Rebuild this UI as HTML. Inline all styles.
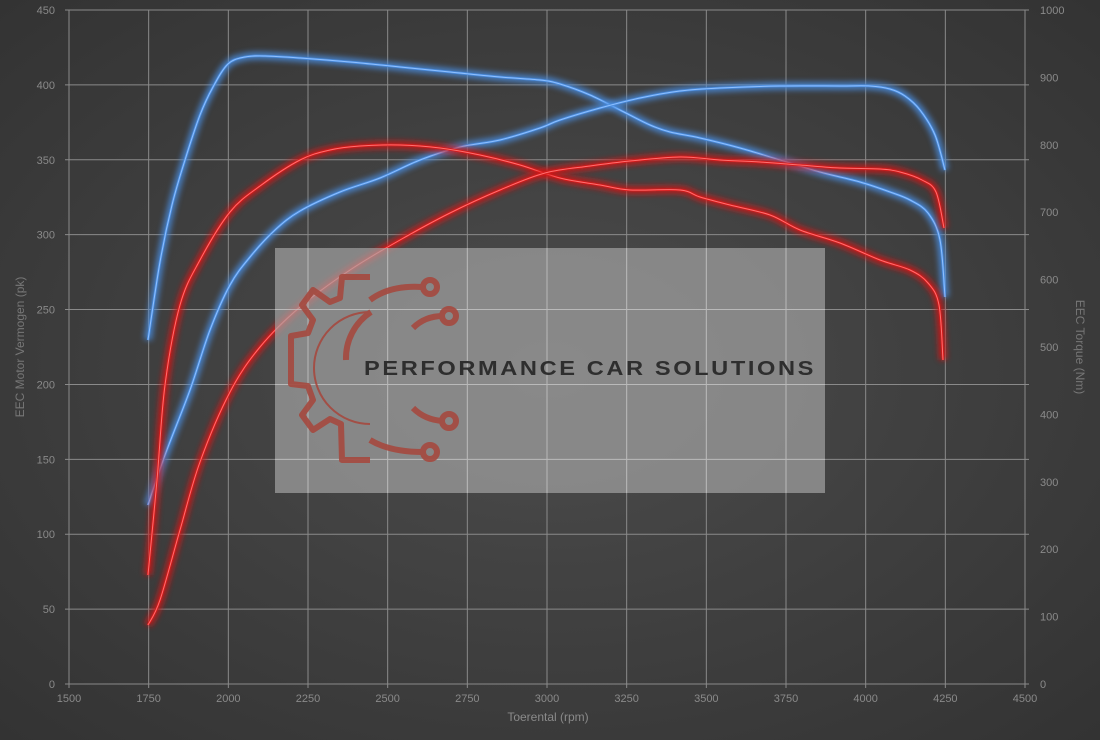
<!DOCTYPE html>
<html><head><meta charset="utf-8"><style>
html,body{margin:0;padding:0;width:1100px;height:740px;overflow:hidden;background:#3a3a3a}
svg{display:block;font-family:"Liberation Sans",sans-serif}
</style></head><body>
<svg id="s" width="1100" height="740" viewBox="0 0 1100 740">
<defs>
<radialGradient id="bg" cx="50%" cy="50%" r="70%">
<stop offset="0" stop-color="#4c4c4c"/><stop offset="1" stop-color="#333"/>
</radialGradient>
<filter id="glow" x="-10%" y="-10%" width="120%" height="120%"><feGaussianBlur stdDeviation="3"/></filter>
</defs>
<rect width="1100" height="740" fill="url(#bg)"/>
<g id="grid" stroke="#8a8a8a" stroke-width="1"></g>
<g id="labels" font-size="11" fill="#8a8a8a"></g>
<text x="548" y="721" font-size="12" fill="#8a8a8a" text-anchor="middle">Toerental (rpm)</text>
<text transform="translate(24,347) rotate(-90)" font-size="12" fill="#777" text-anchor="middle">EEC Motor Vermogen (pk)</text>
<text transform="translate(1076,347) rotate(90)" font-size="12" fill="#777" text-anchor="middle">EEC Torque (Nm)</text>
<g id="curves"></g>
<rect x="275" y="248" width="550" height="245" fill="#a6a6a6" opacity="0.68"/>
<g id="grid2" stroke="#ccc" stroke-width="1" opacity="0.6"></g>
<g fill="none" stroke="#a5493f" stroke-width="6" stroke-linejoin="round" opacity="0.9">
<path d="M346,360 A55,55 0 0 1 371,312"/>
<path d="M370,277 L342,277 L340,298 L330,302 L313,290 L302,305 L313,320 L308,333 L291,336 L291,384 L308,386 L313,400 L302,415 L313,430 L330,419 L341,424 L342,460 L370,460"/>
<path d="M370,312 A56,56 0 0 0 370,424" stroke-width="2"/>
<path d="M370,300 Q390,285 422,287"/>
<path d="M413,328 Q425,316 443,316"/>
<path d="M413,408 Q425,420 443,421"/>
<path d="M370,440 Q390,452 423,452"/>
<circle cx="430" cy="287" r="7"/><circle cx="449" cy="316" r="7"/>
<circle cx="449" cy="421" r="7"/><circle cx="430" cy="452" r="7"/>
</g>
<text x="364" y="375" font-size="20" font-weight="bold" fill="#2e2e2e" letter-spacing="2.2" textLength="452" lengthAdjust="spacingAndGlyphs">PERFORMANCE CAR SOLUTIONS</text>
</svg>
<script>
const NS="http://www.w3.org/2000/svg";
function el(p,t,a,txt){const e=document.createElementNS(NS,t);for(const k in a)e.setAttribute(k,a[k]);if(txt!=null)e.textContent=txt;p.appendChild(e);return e;}
const g=document.getElementById('grid'),L=document.getElementById('labels'),g2=document.getElementById('grid2');
const X=r=>69+(r-1500)*956/3000;
for(let i=0;i<=9;i++){const y=684-i*674/9;el(g,'line',{x1:65,x2:1029,y1:y,y2:y});el(L,'text',{x:55,y:y+4,'text-anchor':'end'},String(i*50));
 if(y>248&&y<493)el(g2,'line',{x1:275,x2:825,y1:y,y2:y});}
for(let i=0;i<=10;i++){const y=684-i*67.4;el(L,'text',{x:1040,y:y+4},String(i*100));}
for(let r=1500;r<=4500;r+=250){const x=X(r);el(g,'line',{x1:x,x2:x,y1:10,y2:688});el(L,'text',{x:x,y:702,'text-anchor':'middle'},String(r));
 if(x>275&&x<825)el(g2,'line',{x1:x,x2:x,y1:248,y2:493});}
function cr(p){let d="M"+p[0];for(let i=0;i<p.length-1;i++){const p0=p[i-1]||p[i],p1=p[i],p2=p[i+1],p3=p[i+2]||p2;
d+=" C"+(p1[0]+(p2[0]-p0[0])/6)+","+(p1[1]+(p2[1]-p0[1])/6)+" "+(p2[0]-(p3[0]-p1[0])/6)+","+(p2[1]-(p3[1]-p1[1])/6)+" "+p2[0]+","+p2[1];}return d;}
const S=[
["#4a8de0","#8fc0ff",[[148,340],[160,262],[172,205],[185,160],[200,115],[213,87],[228,64],[245,57],[265,56],[300,58],[350,62],[400,67],[450,72],[500,77],[540,80],[560,84],[590,95],[620,110],[650,125],[670,132],[700,138],[740,148],[780,160],[820,172],[860,182],[890,192],[910,200],[928,213],[940,240],[945,297]]],
["#4a8de0","#8fc0ff",[[148,505],[165,455],[190,390],[210,330],[230,285],[250,257],[275,230],[300,211],[340,192],[380,178],[420,160],[460,147],[500,140],[540,128],[560,120],[600,108],[640,98],[680,91],[720,88],[780,86],[840,86],[870,86],[890,89],[905,96],[920,110],[935,135],[945,170]]],
["#d81818","#ff7070",[[148,575],[157,480],[165,385],[180,305],[200,260],[230,212],[260,186],[300,160],[330,150],[360,146],[400,145],[440,148],[480,155],[520,165],[560,178],[600,185],[630,190],[680,190],[700,197],[730,205],[770,215],[800,230],[840,243],[880,260],[910,270],[928,283],[939,305],[943,360]]],
["#d81818","#ff7070",[[148,625],[160,600],[180,530],[200,462],[230,392],[260,347],[300,307],[350,270],[400,240],[450,213],[500,190],[545,173],[590,166],[630,161],[680,157],[720,160],[760,162],[800,165],[840,168],[880,169],[900,172],[922,180],[936,192],[944,228]]]];
const C=document.getElementById('curves');
S.forEach(([c,l,p])=>{const d=cr(p);
el(C,'path',{d,fill:'none',stroke:c,'stroke-width':8,opacity:0.8,filter:'url(#glow)'});
el(C,'path',{d,fill:'none',stroke:c,'stroke-width':2.5});
el(C,'path',{d,fill:'none',stroke:l,'stroke-width':1});});
</script>
</body></html>
